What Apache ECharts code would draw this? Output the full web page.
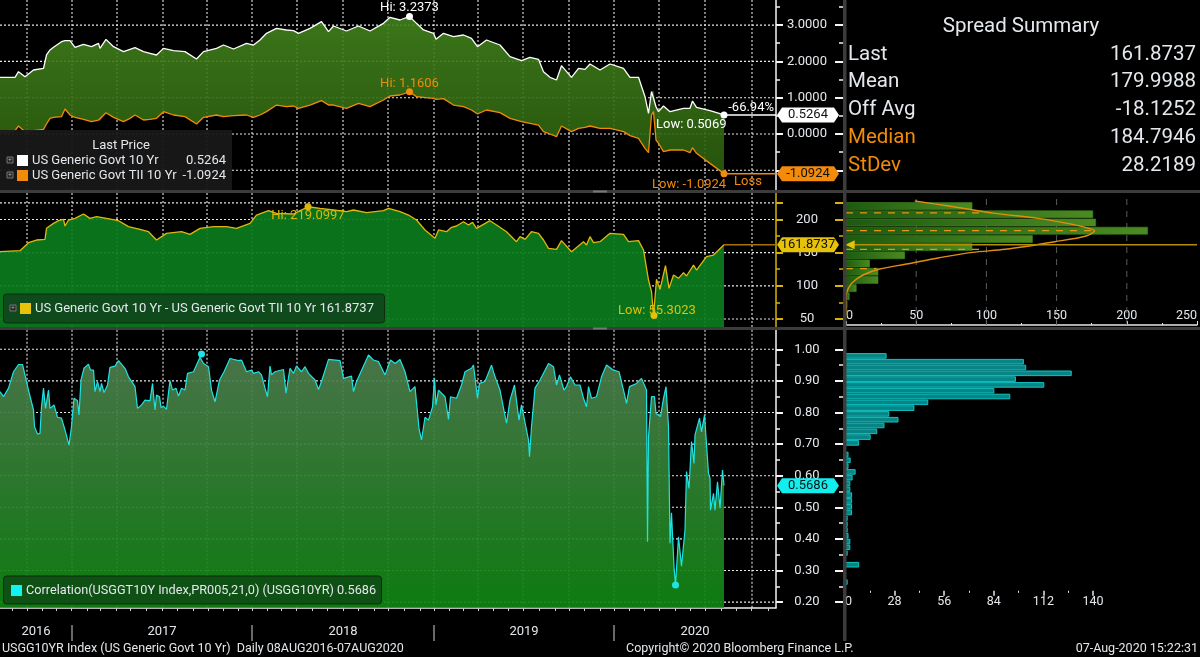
<!DOCTYPE html>
<html>
<head>
<meta charset="utf-8">
<title>US 10Y nominal vs TIPS</title>
<style>
  html, body { margin: 0; padding: 0; background: #000; }
  #chart { width: 1200px; height: 657px; }
</style>
<script src="https://cdn.jsdelivr.net/npm/echarts@6/dist/echarts.min.js"></script>
</head>
<body>
<div id="chart"></div>
<script>
// x values are days since the start of the window
const yieldDays = [0,13,30,37,50,67,87,93,100,107,123,130,140,150,167,183,197,200,212,227,247,260,270,287,300,313,327,347,370,393,407,433,447,467,493,507,520,533,553,573,587,597,620,643,657,667,693,717,740,767,780,800,819,833,847,867,872,887,907,927,943,955,973,1000,1020,1043,1060,1077,1087,1100,1113,1123,1143,1157,1170,1180,1200,1220,1247,1260,1277,1290,1297,1303,1307,1312,1317,1327,1340,1367,1380,1385,1393,1420,1448];
const nominal10y = [1.561,1.561,1.561,1.717,1.579,1.763,1.809,2.176,2.314,2.387,2.543,2.571,2.571,2.387,2.470,2.405,2.497,2.359,2.607,2.405,2.268,2.332,2.378,2.268,2.222,2.176,2.359,2.295,2.268,2.066,2.268,2.359,2.451,2.341,2.497,2.451,2.589,2.773,2.910,2.865,2.846,2.773,2.910,3.094,2.819,2.975,2.837,2.975,2.837,3.048,3.213,3.140,3.2373,3.048,2.865,2.773,2.607,2.773,2.681,2.727,2.635,2.405,2.589,2.451,2.130,2.020,2.112,2.056,1.717,1.561,1.487,1.882,1.561,1.809,1.781,1.928,1.763,1.928,1.809,1.561,1.561,1.028,0.569,1.166,1.193,0.752,0.615,0.771,0.615,0.707,0.707,0.909,0.734,0.642,0.5264];
const tips10y = [0.064,0.045,0.091,0.220,0.064,0.091,0.128,0.275,0.431,0.459,0.477,0.688,0.523,0.459,0.403,0.339,0.385,0.367,0.587,0.459,0.339,0.431,0.523,0.385,0.403,0.431,0.615,0.523,0.477,0.275,0.459,0.523,0.477,0.505,0.523,0.459,0.523,0.615,0.798,0.752,0.771,0.707,0.798,0.918,0.798,0.798,0.707,0.844,0.752,0.936,1.046,1.074,1.1606,1.028,1.010,0.982,0.955,0.973,0.798,0.752,0.661,0.550,0.661,0.587,0.431,0.339,0.293,0.247,0.064,0,-0.074,0.220,0.064,0.155,0.183,0.220,0.155,0.155,0.064,-0.046,-0.120,-0.395,-0.515,0.523,0.615,-0.166,-0.258,-0.487,-0.441,-0.441,-0.515,-0.377,-0.533,-0.809,-1.0924];

const spreadPoints = [[0,151.4],[20,152.4],[40,152.9],[57,165],[73,169],[90,170],[93,186.6],[107,194.1],[117,198.1],[127,200.1],[130,190.1],[137,199.1],[150,201.6],[167,208.2],[180,201.6],[193,204.1],[213,201.6],[237,198.1],[257,189.1],[280,185.1],[297,181.5],[313,169],[333,179],[363,181.5],[380,177.5],[400,186.6],[427,189.1],[453,189.1],[473,186.6],[500,194.1],[513,206.6],[537,213.2],[553,209.2],[587,208.2],[600,213.2],[617,219.1],[640,216.7],[667,214.2],[693,211.7],[707,214.2],[733,210.2],[767,213.2],[777,216.7],[800,211.7],[817,206.6],[833,199.1],[850,184.1],[870,171.5],[877,184.1],[893,181.5],[903,188.1],[913,190.1],[927,196.6],[937,191.6],[945,195.6],[953,186.6],[980,198.1],[993,191.6],[1013,181.5],[1033,166.5],[1040,174],[1050,170],[1063,181.5],[1077,179],[1087,169],[1097,156.5],[1113,155],[1123,168],[1143,151.4],[1167,166.5],[1173,161.5],[1180,174],[1187,165],[1200,166.5],[1220,179],[1247,177.5],[1257,166.5],[1277,168],[1287,154],[1297,108.8],[1303,91.2],[1307,55.3],[1313,109.8],[1320,94.7],[1331,130.3],[1338,96.2],[1347,116.3],[1357,111.3],[1367,119.8],[1373,114.8],[1387,131.3],[1393,123.8],[1413,143.9],[1427,146.4],[1448,161.8737]];

const corrPoints = [[0,.866],[7,.850],[17,.877],[27,.929],[37,.952],[45,.952],[57,.871],[67,.808],[69,.755],[75,.732],[80,.734],[83,.818],[87,.877],[91,.813],[97,.871],[100,.813],[108,.824],[115,.785],[123,.782],[130,.745],[138,.697],[143,.755],[148,.845],[155,.837],[158,.792],[162,.903],[168,.940],[177,.953],[181,.934],[187,.934],[190,.866],[195,.898],[200,.866],[203,.892],[208,.863],[215,.887],[220,.943],[230,.947],[237,.964],[250,.940],[257,.913],[270,.882],[275,.813],[283,.824],[290,.839],[300,.837],[305,.892],[310,.808],[313,.855],[319,.850],[322,.816],[327,.820],[333,.810],[340,.901],[345,.871],[352,.877],[357,.852],[363,.877],[370,.871],[375,.924],[387,.929],[400,.975],[407,.955],[417,.945],[423,.871],[430,.834],[439,.903],[448,.929],[460,.971],[477,.964],[483,.966],[493,.929],[503,.934],[507,.924],[517,.929],[523,.919],[530,.877],[535,.850],[540,.947],[543,.919],[550,.929],[567,.936],[572,.861],[580,.940],[587,.924],[593,.947],[603,.929],[610,.945],[617,.924],[630,.903],[637,.873],[643,.898],[657,.968],[680,.964],[687,.908],[703,.915],[707,.866],[713,.898],[737,.982],[747,.966],[757,.961],[770,.919],[781,.966],[790,.955],[800,.968],[810,.929],[820,.866],[830,.882],[838,.750],[843,.713],[850,.785],[857,.776],[865,.818],[869,.908],[872,.824],[877,.871],[890,.850],[897,.778],[901,.850],[913,.845],[923,.887],[930,.929],[943,.940],[947,.950],[955,.845],[959,.892],[970,.898],[983,.950],[990,.913],[1000,.871],[1013,.766],[1020,.839],[1029,.887],[1038,.776],[1043,.824],[1057,.713],[1059,.660],[1063,.755],[1070,.877],[1080,.903],[1097,.955],[1107,.945],[1113,.887],[1119,.919],[1128,.871],[1133,.882],[1141,.913],[1150,.887],[1160,.887],[1167,.845],[1173,.818],[1177,.882],[1183,.845],[1193,.850],[1203,.913],[1213,.950],[1227,.934],[1238,.929],[1247,.871],[1253,.829],[1259,.882],[1273,.892],[1283,.908],[1293,.871],[1295,.391],[1297,.723],[1303,.850],[1309,.850],[1312,.797],[1321,.787],[1327,.845],[1332,.882],[1337,.755],[1340,.386],[1343,.483],[1348,.312],[1351,.254],[1357,.407],[1363,.314],[1370,.428],[1373,.613],[1378,.560],[1383,.708],[1388,.639],[1390,.729],[1399,.782],[1403,.739],[1409,.792],[1417,.607],[1420,.592],[1421,.491],[1427,.544],[1430,.491],[1435,.581],[1440,.497],[1445,.618],[1448,.5686]];

// histograms, top bin first
const spreadHist = [null,90,176,178,215,133,90,42,17,23,23,7.5,2.5,1,1,null];
const corrHist = [23.5,101,102.3,128,96.5,112.5,84.3,93.3,47,39.2,25,30.2,22.3,18.2,14.5,8,null,2,3.2,2,6,4.3,3,3,4,4,4,4,1.5,1.5,1.5,2,3,3,1.5,null,8,null,null,1.5,null];
// fitted curve on the spread histogram: [count, level]
const normalCurve = [[49,227.7],[73.4,220.2],[106.4,209.2],[137,201.6],[160.5,193],[172.3,187],[177,183],[171,175],[148.8,166.4],[113.5,155],[90,150.4],[66.4,142.3],[43,132.8],[24,125.3],[12.2,116.3],[5.2,106.2],[1.65,96.2],[0,83.6],[0,63.5],[0,56]];
// dashed levels on the spread histogram: [level, count where it stops]
const spreadLevels = [[210,100],[183,177],[155,100],[126,21.6]];

const quarterTicks = [54,144,234,326,414,504,594,686,776,868,956,1046,1138,1228,1318,1410,1504];
const monthTicks = [25,55,85,113,143,175,200,233,261,293,325,355,387,417,447,477,505,535,563,593,625,655,687,717,749,777,809,840,868,898,927,957,987,1017,1047,1079,1110,1139,1169,1200,1229,1259,1288,1319,1350,1380,1410,1442,1472,1503,1537];
const yearTicks = [144,504,868,1228];
const yearLabelDays = [72,324,686,1048,1390];
const yearLabels = ['2016','2017','2018','2019','2020'];
const spreadHistTicks = [50,100,150,200];

const yieldTicks = [-1,0,1,2,3];
const yieldMinor = [-0.5,0.5,1.5,2.5,3.5];
const spreadTicks = [50,100,150,200,225];
const spreadMinor = [75,125,175];
const corrTicks = [.2,.3,.4,.5,.6,.7,.8,.9,1];
const corrMinor = [.25,.35,.45,.55,.65,.75,.85,.95];

const summaryRows = [['Last','161.8737'],['Mean','179.9988'],['Off Avg','-18.1252'],['Median','184.7946'],['StDev','28.2189']];

const FONT = 'Roboto';
const DAY_MAX = 1552, LAST_DAY = 1448;
const WHITE = '#ffffff', ORANGE = '#f28a0a', GOLD = '#e6c20a', CYAN = '#1fe3e3', TXT = '#e4e8ec';

const panels = [
  { top: 0, height: 190, min: -1.543, max: 3.691, majors: yieldTicks, minors: yieldMinor, labels: [0,1,2,3], fmt: v => v.toFixed(4), color: '#f4f4f4' },
  { top: 193, height: 134, min: 38, max: 239.8, majors: spreadTicks, minors: spreadMinor, labels: [50,100,150,200], fmt: v => v.toFixed(0), color: '#d8b40a' },
  { top: 330, height: 277.7, min: 0.1823, max: 1.0611, majors: corrTicks, minors: corrMinor, labels: corrTicks, fmt: v => v.toFixed(2), color: '#f4f4f4' }
];

const grids = [
  ...panels.map(p => ({ left: 0, top: p.top, width: 776, height: p.height })),
  { left: 846, top: 193.8, width: 354, height: 131.2 },
  { left: 845, top: 353, width: 248, height: 237.8 },
  { left: 0, top: 608, width: 776, height: 33 }
];

function plotX(grid) {
  return {
    type: 'value', gridIndex: grid, min: 0, max: DAY_MAX,
    axisLine: { show: false }, axisLabel: { show: false }, axisTick: { show: false }, splitLine: { show: false }
  };
}

const xAxes = [
  plotX(0), plotX(1), plotX(2),
  {
    type: 'value', gridIndex: 3, min: 0, max: 250, interval: 50, position: 'bottom',
    axisLine: { show: true, lineStyle: { color: '#e8e8e8', width: 1.5 } },
    axisTick: { show: true, inside: true, length: 4, lineStyle: { color: '#e8e8e8' } },
    minorTick: { show: true, splitNumber: 2, length: 2, lineStyle: { color: '#e8e8e8' } },
    axisLabel: { inside: true, margin: 3, color: TXT, fontFamily: FONT, fontSize: 12.5, alignMinLabel: 'left', alignMaxLabel: 'right' },
    splitLine: { show: false }
  },
  {
    type: 'value', gridIndex: 4, min: 0, max: 140, interval: 28, position: 'bottom',
    axisLine: { show: false },
    axisTick: { show: true, length: 5, lineStyle: { color: '#e8e8e8', width: 1.5 } },
    minorTick: { show: true, splitNumber: 2, length: 2, lineStyle: { color: '#e8e8e8' } },
    axisLabel: { margin: 5, color: TXT, fontFamily: FONT, fontSize: 12.5, alignMinLabel: 'left' },
    splitLine: { show: false }
  },
  {
    type: 'value', gridIndex: 5, min: 0, max: DAY_MAX, position: 'top',
    axisLine: { show: true, onZero: false, lineStyle: { color: '#f0f0f0', width: 1.5 } },
    axisTick: { show: true, inside: true, length: 3, customValues: monthTicks, lineStyle: { color: '#cfcfcf' } },
    axisLabel: { show: false }, splitLine: { show: false }
  },
  {
    type: 'value', gridIndex: 5, min: 0, max: DAY_MAX, position: 'bottom',
    axisLine: { show: false },
    axisTick: { show: true, inside: true, length: 16, customValues: yearTicks, lineStyle: { color: '#8a8a8a', width: 1.5 } },
    axisLabel: {
      show: true, inside: true, margin: 3, customValues: yearLabelDays, color: TXT, fontFamily: FONT, fontSize: 13,
      formatter: v => yearLabels[yearLabelDays.indexOf(v)]
    },
    splitLine: { show: false }
  }
];

const yAxes = [
  ...panels.map((p, i) => ({
    type: 'value', gridIndex: i, position: 'right', min: p.min, max: p.max,
    axisLine: { show: true, onZero: false, lineStyle: { color: p.color, width: 1.5 } },
    axisTick: { show: true, length: 7, customValues: p.majors, lineStyle: { color: p.color, width: 2 } },
    axisLabel: { show: true, customValues: p.labels, formatter: p.fmt, color: TXT, fontFamily: FONT, fontSize: 13, margin: 31, align: 'center', padding: [2, 0, 0, 0] },
    splitLine: { show: false }
  })),
  { type: 'category', gridIndex: 3, inverse: true, show: false, data: spreadHist.map((v, i) => i) },
  { type: 'value', gridIndex: 3, min: 41, max: 238.6, show: false },
  { type: 'category', gridIndex: 4, inverse: true, show: false, data: corrHist.map((v, i) => i) },
  { type: 'value', gridIndex: 5, min: 0, max: 1, show: false }
];

// the short ticks and the far side marks each get a grid over the panel
panels.forEach(p => {
  [[776, p.minors, 4, false, 1.5], [843, p.majors, 8, true, 2], [843, p.minors, 4, true, 1.5]].forEach(([width, ticks, length, inside, w]) => {
    const g = grids.length;
    grids.push({ left: 0, top: p.top, width, height: p.height });
    xAxes.push({ type: 'value', gridIndex: g, show: false, min: 0, max: 1 });
    yAxes.push({
      type: 'value', gridIndex: g, position: 'right', min: p.min, max: p.max,
      axisLine: { show: false, onZero: false }, axisLabel: { show: false }, splitLine: { show: false },
      axisTick: { show: true, inside, length, customValues: ticks, lineStyle: { color: p.color, width: w } }
    });
  });
});

const Y = { p1: 0, p2: 1, p3: 2, h2: 3, h2level: 4, h3: 5 };

// dotted guides behind a panel, one broken line series for all of them
function guides(xIdx, yIdx, xs, ys, yRange, xRange, lineStyle) {
  const data = [];
  xs.forEach(x => data.push([x, yRange[0]], [x, yRange[1]], [null, null]));
  ys.forEach(y => data.push([xRange[0], y], [xRange[1], y], [null, null]));
  return {
    type: 'line', xAxisIndex: xIdx, yAxisIndex: yIdx, z: 1, silent: true, showSymbol: false,
    connectNulls: false, lineStyle, data
  };
}
const dotted = { color: '#e8e8e8', width: 1.1, type: [2, 2] };

function mark(xIdx, yIdx, d, size, color, text, pos, offset) {
  return {
    type: 'scatter', xAxisIndex: xIdx, yAxisIndex: yIdx, z: 6, silent: true,
    symbolSize: size, itemStyle: { color, opacity: 1 }, data: [d],
    label: {
      show: !!text, formatter: text, position: pos || 'top', distance: 2, offset: offset || [0, 0],
      color, fontFamily: FONT, fontSize: 13
    }
  };
}

// hexagon value tag on the axis, plus the leader from the last point
function tag(xIdx, yIdx, value, fill, lineColor) {
  return {
    type: 'custom', xAxisIndex: xIdx, yAxisIndex: yIdx, z: 7, silent: true, clip: false,
    data: [[DAY_MAX, value]],
    renderItem(params, api) {
      const p = api.coord([DAY_MAX, value]);
      const from = api.coord([LAST_DAY, value]);
      const w = 62, h = 15, c = 5, x = p[0] + 1, y = p[1];
      const children = [];
      if (lineColor) children.push({
        type: 'line', shape: { x1: from[0], y1: y, x2: p[0], y2: y },
        style: { stroke: lineColor, lineWidth: 1.5 }
      });
      children.push({
        type: 'polygon',
        shape: { points: [[x, y], [x + c, y - h / 2], [x + w - c, y - h / 2], [x + w, y], [x + w - c, y + h / 2], [x + c, y + h / 2]] },
        style: { fill }
      });
      children.push({
        type: 'text',
        style: { x: x + w / 2, y, text: value.toFixed(4), fill: '#101010', font: '13px ' + FONT, textAlign: 'center', textVerticalAlign: 'middle' }
      });
      return { type: 'group', children };
    }
  };
}

const series = [
  ...panels.map((p, i) => guides(i, i, quarterTicks, p.majors, [p.min, p.max], [0, DAY_MAX], dotted)),
  guides(3, Y.h2level, spreadHistTicks, [], [41, 238.6], [0, 250], { color: '#5a5a5a', width: 1, type: [6, 6] }),

  // green band between the two yields, drawn once as a single polygon
  {
    type: 'custom', xAxisIndex: 0, yAxisIndex: Y.p1, z: 2, silent: true,
    encode: { x: 0, y: [1, 2] },
    data: yieldDays.map((d, i) => [d, nominal10y[i], tips10y[i]]),
    renderItem(params, api) {
      if (params.dataIndex !== 0) return null;
      const upper = yieldDays.map((d, i) => api.coord([d, nominal10y[i]]));
      const lower = yieldDays.map((d, i) => api.coord([d, tips10y[i]])).reverse();
      return {
        type: 'polygon',
        shape: { points: upper.concat(lower) },
        style: {
          opacity: 0.9,
          fill: new echarts.graphic.LinearGradient(0, 0, 0, 1, [
            { offset: 0, color: '#42831c' }, { offset: 1, color: '#2a5c0d' }
          ])
        }
      };
    }
  },
  {
    type: 'line', xAxisIndex: 0, yAxisIndex: Y.p1, z: 4,
    showSymbol: false, lineStyle: { color: ORANGE, width: 1.3 },
    data: yieldDays.map((d, i) => [d, tips10y[i]])
  },
  {
    type: 'line', xAxisIndex: 0, yAxisIndex: Y.p1, z: 3,
    showSymbol: false, lineStyle: { color: WHITE, width: 1.3 },
    data: yieldDays.map((d, i) => [d, nominal10y[i]])
  },
  mark(0, Y.p1, [819, 3.2373], 7, WHITE, 'Hi: 3.2373', 'top', [0, 3]),
  mark(0, Y.p1, [819, 1.1606], 7, ORANGE, 'Hi: 1.1606', 'top', [0, 4]),
  mark(0, Y.p1, [LAST_DAY, 0.5264], 7, WHITE),
  mark(0, Y.p1, [LAST_DAY, -1.0924], 7, ORANGE),
  mark(0, Y.p1, [DAY_MAX, 0.716], 0, WHITE, '-66.94%', 'left'),
  mark(0, Y.p1, [1308, 0.248], 0, WHITE, 'Low: 0.5069', 'right'),
  mark(0, Y.p1, [1300, -1.4], 0, ORANGE, 'Low: -1.0924', 'right'),
  mark(0, Y.p1, [1464, -1.32], 0, ORANGE, 'Loss', 'right'),
  tag(0, Y.p1, 0.5264, WHITE, WHITE),
  tag(0, Y.p1, -1.0924, ORANGE, ORANGE),

  // spread panel
  {
    type: 'line', xAxisIndex: 1, yAxisIndex: Y.p2, z: 3, showSymbol: false,
    lineStyle: { color: '#e0b80c', width: 1.3 },
    areaStyle: { origin: 'start', color: '#0b7c1c', opacity: 0.92 },
    data: spreadPoints
  },
  mark(1, Y.p2, [616, 219.1], 7, '#d9b80a', 'Hi: 219.0997', 'bottom', [0, -3]),
  mark(1, Y.p2, [1308, 55.3], 7, '#e6c20a'),
  mark(1, Y.p2, [1232, 62], 0, '#d9c20a', 'Low: 55.3023', 'right'),
  tag(1, Y.p2, 161.8737, GOLD, '#a86e08'),

  // correlation panel
  {
    type: 'line', xAxisIndex: 2, yAxisIndex: Y.p3, z: 3, showSymbol: false,
    lineStyle: { color: CYAN, width: 1.2 },
    areaStyle: {
      origin: 'start', opacity: 0.92,
      color: new echarts.graphic.LinearGradient(0, 0, 0, 1, [
        { offset: 0, color: '#4f7d4f' }, { offset: 1, color: '#0f8512' }
      ])
    },
    data: corrPoints
  },
  mark(2, Y.p3, [403, 0.985], 7, CYAN),
  mark(2, Y.p3, [1351, 0.254], 7, CYAN),
  tag(2, Y.p3, 0.5686, '#12eeee'),

  // spread histogram
  {
    type: 'bar', xAxisIndex: 3, yAxisIndex: Y.h2, barWidth: 7.6, z: 2, silent: true,
    itemStyle: {
      borderColor: '#3d8a1c', borderWidth: 0.6,
      color: new echarts.graphic.LinearGradient(0, 0, 1, 0, [
        { offset: 0, color: '#1c5a10' }, { offset: 1, color: '#4c8a22' }
      ])
    },
    data: spreadHist
  },
  ...spreadLevels.map(([level, end]) => ({
    type: 'line', xAxisIndex: 3, yAxisIndex: Y.h2level, z: 3, showSymbol: false, silent: true,
    lineStyle: { color: '#e09a12', width: 1.2, type: [7, 7] },
    data: [[0, level], [end, level]]
  })),
  {
    type: 'line', xAxisIndex: 3, yAxisIndex: Y.h2level, z: 4, showSymbol: false, silent: true,
    smooth: 0.3, lineStyle: { color: '#e08e10', width: 1.4 },
    data: normalCurve
  },
  {
    type: 'line', xAxisIndex: 3, yAxisIndex: Y.h2level, z: 4, showSymbol: false, silent: true,
    lineStyle: { color: '#b58e06', width: 1.4 },
    data: [[0, 161.8737], [250, 161.8737]]
  },
  {
    type: 'scatter', xAxisIndex: 3, yAxisIndex: Y.h2level, z: 5, silent: true,
    symbol: 'triangle', symbolRotate: 90, symbolSize: 9, itemStyle: { color: GOLD, opacity: 1 },
    data: [[3, 161.8737]]
  },

  // correlation histogram
  {
    type: 'bar', xAxisIndex: 4, yAxisIndex: Y.h3, barWidth: 5.6, z: 2, silent: true,
    itemStyle: { color: '#058585', borderColor: '#10c4c4', borderWidth: 1 },
    data: corrHist
  }
];

function label(x, y, text, color, size, align) {
  return {
    type: 'text', z: 20, silent: true, x, y,
    style: { text, fill: color || TXT, font: (size || 12) + 'px ' + FONT, textAlign: align || 'left', textVerticalAlign: 'middle' }
  };
}
function box(x, y, w, h, fill, stroke, r) {
  return {
    type: 'rect', z: 19, silent: true, shape: { x, y, width: w, height: h, r: r || 0 },
    style: { fill, stroke: stroke || null, lineWidth: 1 }
  };
}
function plusBox(x, y) {
  return [box(x, y, 6, 6, '#222', '#777'), label(x + 3, y + 3, '+', '#aaa', 7, 'center')];
}

const graphic = [
  // pane dividers
  box(0, 190, 1200, 3, '#3c3c3c'),
  box(0, 327, 1200, 3, '#3c3c3c'),
  box(843, 0, 3.5, 641, '#3c3c3c'),
  box(593, 190.5, 14, 2, '#777'),
  box(593, 327.5, 14, 2, '#777'),

  // legend, yields
  box(0, 130, 232, 60, 'rgba(24,24,24,.95)'),
  label(121, 146, 'Last Price', TXT, 13, 'center'),
  ...plusBox(7, 157),
  box(17, 155, 11, 11, WHITE),
  label(32, 161, 'US Generic Govt 10 Yr', TXT, 13),
  label(226, 161, '0.5264', TXT, 13, 'right'),
  ...plusBox(7, 172),
  box(17, 170, 11, 11, ORANGE),
  label(32, 176, 'US Generic Govt TII 10 Yr', TXT, 13),
  label(226, 176, '-1.0924', TXT, 13, 'right'),

  // legend, spread
  box(3.5, 294, 381, 29, '#0e4a1c', '#08300f', 3),
  ...plusBox(10, 305),
  box(20, 303, 11, 11, GOLD),
  label(35, 309, 'US Generic Govt 10 Yr - US Generic Govt TII 10 Yr 161.8737', TXT, 13),

  // legend, correlation
  box(3.5, 576, 378, 28, '#0f5014', '#083009', 3),
  box(11, 585, 11, 11, '#12f4f4'),
  label(26, 591, 'Correlation(USGGT10Y Index,PR005,21,0) (USGG10YR) 0.5686', TXT, 12.7),

  // summary
  label(1021, 27, 'Spread Summary', TXT, 20.5, 'center'),
  ...summaryRows.flatMap((r, i) => {
    const c = i > 2 ? ORANGE : TXT, y = 54.5 + i * 27.8;
    return [label(848, y, r[0], c, 20.5), label(1196, y, r[1], TXT, 20.5, 'right')];
  }),

  // footer
  label(2, 649, 'USGG10YR Index (US Generic Govt 10 Yr)  Daily 08AUG2016-07AUG2020', TXT, 12.5),
  label(626, 649, 'Copyright\u00a9 2020 Bloomberg Finance L.P.', TXT, 12.5),
  label(1198, 649, '07-Aug-2020 15:22:31', TXT, 12.5, 'right')
];

const chart = echarts.init(document.getElementById('chart'), null, { renderer: 'canvas' });
chart.setOption({
  animation: false,
  backgroundColor: '#000',
  grid: grids,
  xAxis: xAxes,
  yAxis: yAxes,
  series,
  graphic
});
</script>
</body>
</html>
